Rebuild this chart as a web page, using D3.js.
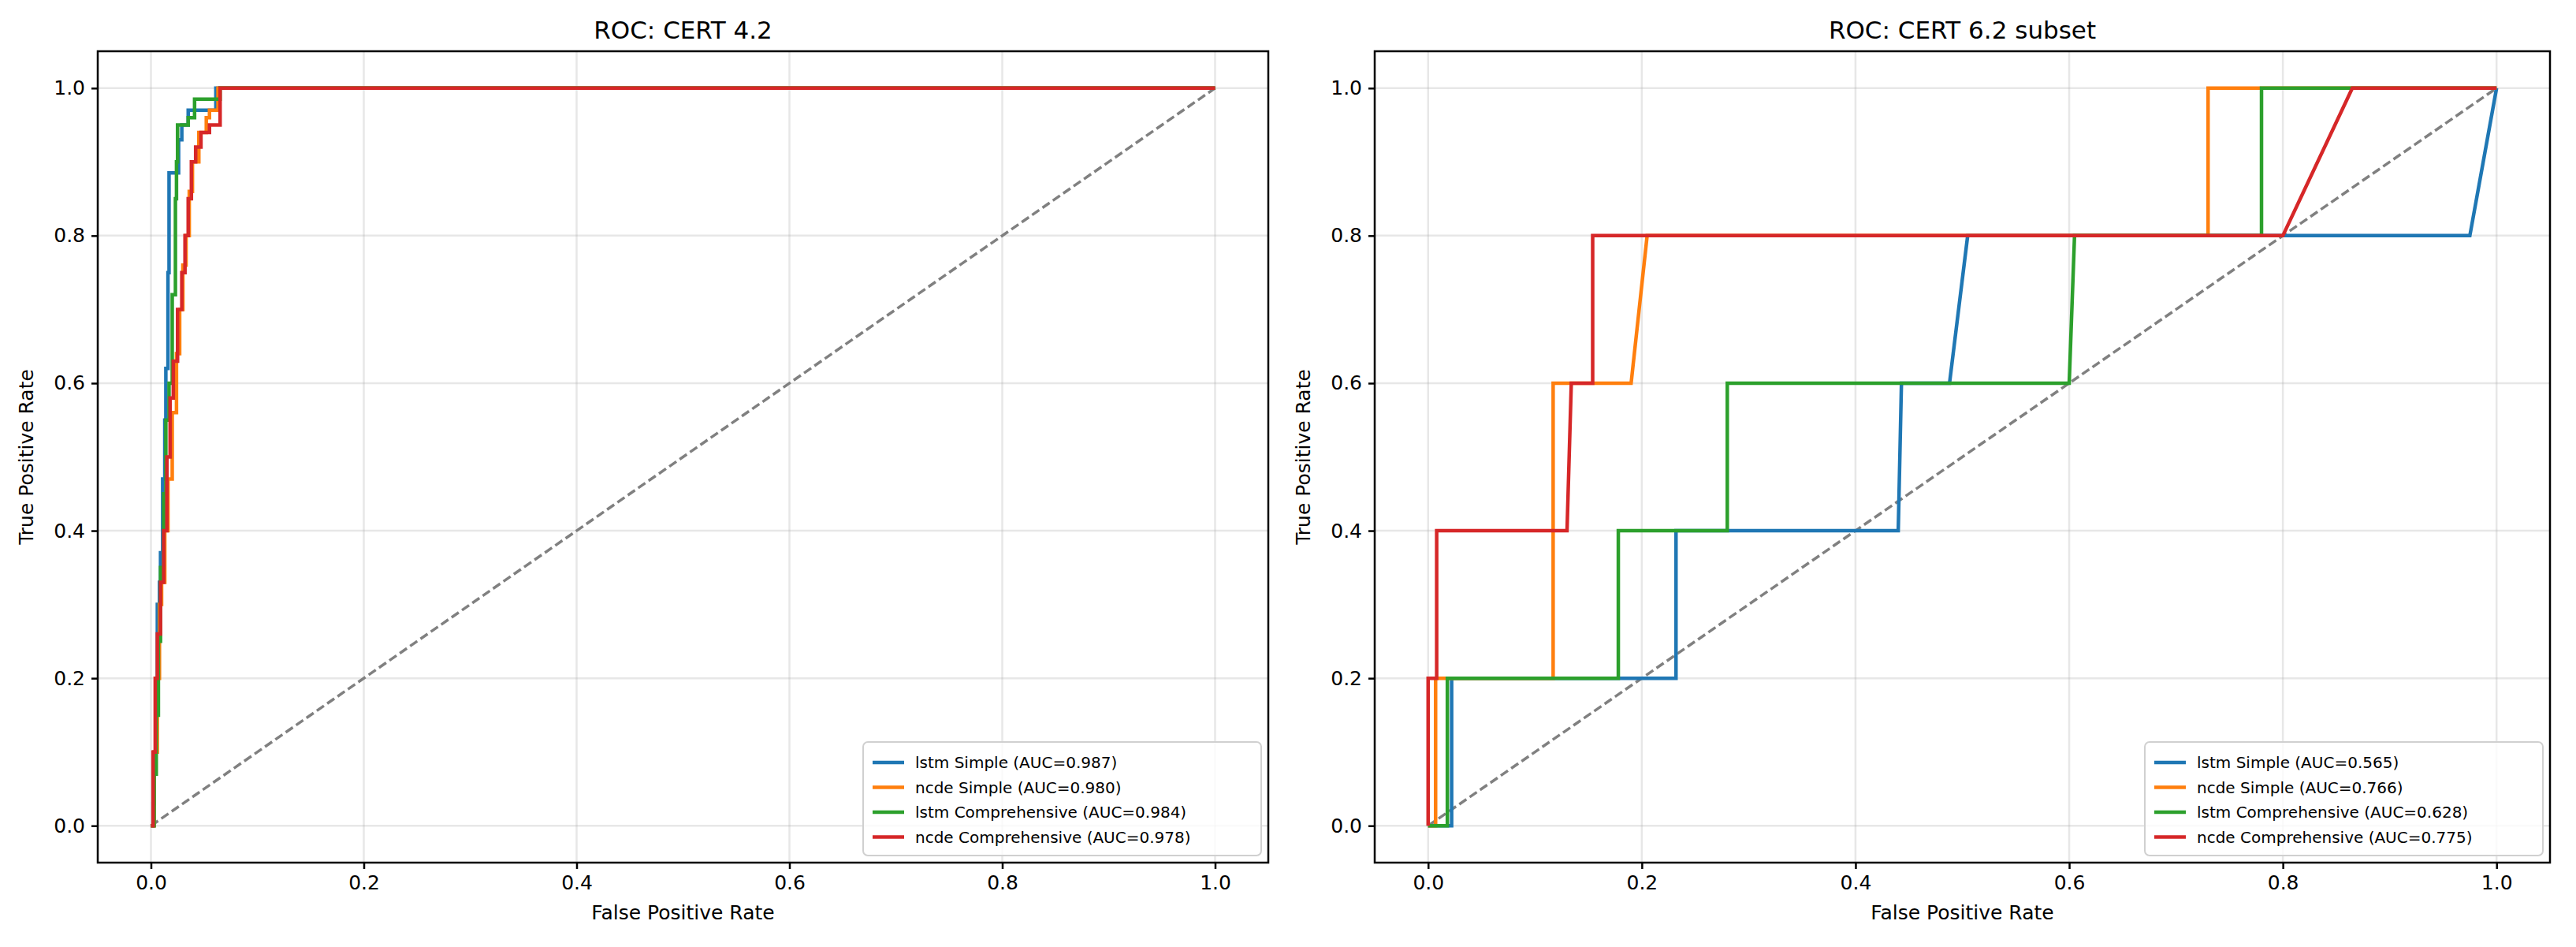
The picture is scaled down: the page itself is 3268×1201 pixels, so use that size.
<!DOCTYPE html>
<html>
<head>
<meta charset="utf-8">
<script src="https://cdn.jsdelivr.net/npm/d3@7"></script>
<style>
  body { margin: 0; background: #fff; }
  text { font-family: "DejaVu Sans", sans-serif; }
</style>
</head>
<body>
<svg id="chart" width="3268" height="1201"></svg>
<script>
// colours of the four models
var colors = ["#1f77b4", "#ff7f0e", "#2ca02c", "#d62728"];
var tickValues = [0, 0.2, 0.4, 0.6, 0.8, 1.0];

// CERT 4.2 curves
var labels42 = ["lstm Simple (AUC=0.987)", "ncde Simple (AUC=0.980)", "lstm Comprehensive (AUC=0.984)", "ncde Comprehensive (AUC=0.978)"];
var lstmSimple42 = [[0,0],[0.002,0.03],[0.003,0.1],[0.005,0.2],[0.006,0.3],[0.008,0.33],[0.009,0.37],[0.011,0.47],[0.013,0.55],[0.014,0.62],[0.016,0.75],[0.017,0.87],[0.017,0.885],[0.023,0.885],[0.026,0.93],[0.029,0.95],[0.035,0.97],[0.058,0.97],[0.061,1.0],[1,1]];
var ncdeSimple42 = [[0,0],[0.003,0.1],[0.006,0.2],[0.008,0.3],[0.01,0.33],[0.013,0.4],[0.016,0.47],[0.02,0.56],[0.024,0.64],[0.027,0.7],[0.03,0.76],[0.033,0.8],[0.036,0.86],[0.039,0.9],[0.045,0.94],[0.052,0.96],[0.055,0.97],[0.063,1.0],[1,1]];
var lstmComp42 = [[0,0],[0.003,0.07],[0.005,0.15],[0.007,0.25],[0.009,0.35],[0.012,0.45],[0.014,0.55],[0.017,0.6],[0.02,0.72],[0.023,0.85],[0.024,0.9],[0.025,0.95],[0.035,0.96],[0.041,0.985],[0.063,0.985],[0.065,1.0],[1,1]];
var ncdeComp42 = [[0,0],[0.002,0.1],[0.004,0.2],[0.006,0.26],[0.009,0.33],[0.012,0.4],[0.015,0.5],[0.018,0.58],[0.021,0.63],[0.025,0.7],[0.029,0.75],[0.032,0.8],[0.035,0.85],[0.038,0.9],[0.042,0.92],[0.047,0.94],[0.055,0.95],[0.063,0.95],[0.065,1.0],[1,1]];

// CERT 6.2 subset curves
var labels62 = ["lstm Simple (AUC=0.565)", "ncde Simple (AUC=0.766)", "lstm Comprehensive (AUC=0.628)", "ncde Comprehensive (AUC=0.775)"];
var lstmSimple62 = [[0,0],[0.022,0],[0.022,0.2],[0.232,0.2],[0.232,0.4],[0.44,0.4],[0.443,0.6],[0.488,0.6],[0.505,0.8],[0.975,0.8],[1,1]];
var ncdeSimple62 = [[0,0],[0.007,0],[0.007,0.2],[0.117,0.2],[0.117,0.6],[0.19,0.6],[0.205,0.8],[0.73,0.8],[0.73,1.0],[1,1]];
var lstmComp62 = [[0,0],[0.018,0],[0.018,0.2],[0.178,0.2],[0.178,0.4],[0.28,0.4],[0.28,0.6],[0.6,0.6],[0.605,0.8],[0.78,0.8],[0.78,1.0],[1,1]];
var ncdeComp62 = [[0,0],[0,0.2],[0.008,0.2],[0.008,0.4],[0.13,0.4],[0.134,0.6],[0.154,0.6],[0.154,0.8],[0.8,0.8],[0.865,1.0],[1,1]];

var svg = d3.select("#chart");

function drawPanel(left, right, title, series, labels, curve) {
    var top = 65, bottom = 1094;
    var x = d3.scaleLinear().domain([-0.05, 1.05]).range([left, right]);
    var y = d3.scaleLinear().domain([-0.05, 1.05]).range([bottom, top]);
    var g = svg.append("g");

    // grid
    g.selectAll(".gx").data(tickValues).enter().append("line")
        .attr("x1", d => x(d)).attr("x2", d => x(d)).attr("y1", top).attr("y2", bottom)
        .attr("stroke", "#b0b0b0").attr("stroke-opacity", 0.3).attr("stroke-width", 2.5);
    g.selectAll(".gy").data(tickValues).enter().append("line")
        .attr("y1", d => y(d)).attr("y2", d => y(d)).attr("x1", left).attr("x2", right)
        .attr("stroke", "#b0b0b0").attr("stroke-opacity", 0.3).attr("stroke-width", 2.5);

    // chance diagonal
    g.append("line").attr("x1", x(0)).attr("y1", y(0)).attr("x2", x(1)).attr("y2", y(1))
        .attr("stroke", "#808080").attr("stroke-width", 3.5).attr("stroke-dasharray", "11,5");

    var line = d3.line().x(d => x(d[0])).y(d => y(d[1])).curve(curve);
    series.forEach((s, i) => {
        g.append("path").attr("d", line(s)).attr("fill", "none")
            .attr("stroke", colors[i]).attr("stroke-width", 4.5);
    });

    // axes
    var xAxis = d3.axisBottom(x).tickValues(tickValues).tickFormat(d3.format(".1f")).tickSize(8).tickPadding(8);
    var yAxis = d3.axisLeft(y).tickValues(tickValues).tickFormat(d3.format(".1f")).tickSize(8).tickPadding(8);
    var ax = g.append("g").attr("transform", "translate(0," + bottom + ")").call(xAxis);
    var ay = g.append("g").attr("transform", "translate(" + left + ",0)").call(yAxis);
    [ax, ay].forEach(a => {
        a.select(".domain").remove();
        a.selectAll("line").attr("stroke-width", 2.5);
        a.selectAll("text").attr("font-size", 25).attr("fill", "#000");
    });
    g.append("rect").attr("x", left).attr("y", top).attr("width", right - left).attr("height", bottom - top)
        .attr("fill", "none").attr("stroke", "#000").attr("stroke-width", 2.5);

    g.append("text").attr("x", (left + right) / 2).attr("y", top - 16).attr("text-anchor", "middle")
        .attr("font-size", 31).text(title);
    g.append("text").attr("x", (left + right) / 2).attr("y", bottom + 72).attr("text-anchor", "middle")
        .attr("font-size", 25).text("False Positive Rate");
    g.append("text").attr("transform", "translate(" + (left - 82) + "," + ((top + bottom) / 2) + ") rotate(-90)")
        .attr("text-anchor", "middle").attr("font-size", 25).text("True Positive Rate");

    // legend
    var lw = 505, lh = 144, lx = right - lw - 9, ly = bottom - lh - 9;
    g.append("rect").attr("x", lx).attr("y", ly).attr("width", lw).attr("height", lh).attr("rx", 6)
        .attr("fill", "#fff").attr("fill-opacity", 0.8).attr("stroke", "#d0d0d0").attr("stroke-width", 2);
    labels.forEach((l, i) => {
        var yy = ly + 26 + i * 31.5;
        g.append("line").attr("x1", lx + 12).attr("x2", lx + 52).attr("y1", yy).attr("y2", yy)
            .attr("stroke", colors[i]).attr("stroke-width", 4.5);
        g.append("text").attr("x", lx + 66).attr("y", yy + 7).attr("font-size", 20).text(l);
    });
}

drawPanel(124, 1609, "ROC: CERT 4.2", [lstmSimple42, ncdeSimple42, lstmComp42, ncdeComp42], labels42, d3.curveStepAfter);
drawPanel(1744, 3235, "ROC: CERT 6.2 subset", [lstmSimple62, ncdeSimple62, lstmComp62, ncdeComp62], labels62, d3.curveLinear);
</script>
</body>
</html>
